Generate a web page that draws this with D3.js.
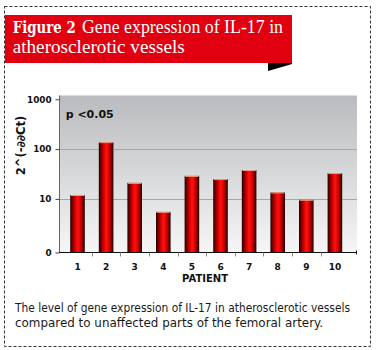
<!DOCTYPE html>
<html>
<head>
<meta charset="utf-8">
<script src="https://cdn.jsdelivr.net/npm/d3@7"></script>
<style>
  html, body { margin: 0; padding: 0; background: #fff; }
  svg { display: block; }
</style>
</head>
<body>
<svg id="chart" width="379" height="350"></svg>
<script>
// ---- data ----
const categories = ["1", "2", "3", "4", "5", "6", "7", "8", "9", "10"];
const values = [12, 138, 21, 5.5, 29, 25, 38, 13.5, 9.6, 33];
const yTickValues = [0.84, 10, 100, 1000];
const yTickLabels = ["0", "10", "100", "1000"];
const titleBold = "Figure 2";
const titleLine1 = "Gene expression of IL-17 in";
const titleLine2 = "atherosclerotic vessels";
const xTitle = "PATIENT";
const yTitle = "2^(-\u2202\u2202Ct)";
const annotation = "p <0.05";
const captionLines = [
  "The level of gene expression of IL-17 in atherosclerotic vessels",
  "compared to unaffected parts of the femoral artery."
];

// ---- layout ----
const svg = d3.select("#chart");
const plot = { left: 59, right: 357, top: 95.5, bottom: 252.5 };

const x = d3.scaleBand().domain(categories).range([63.2, 349.2]).paddingInner(0.49).paddingOuter(0.245);
const y = d3.scaleLog().domain([0.84, 1000]).range([plot.bottom, 99.3]);

const defs = svg.append("defs");
const bg = defs.append("linearGradient").attr("id", "bg").attr("x1", 0).attr("y1", 0).attr("x2", 0).attr("y2", 1);
bg.append("stop").attr("offset", "0%").attr("stop-color", "#b9bbbe");
bg.append("stop").attr("offset", "100%").attr("stop-color", "#f6f6f6");

const bar = defs.append("linearGradient").attr("id", "bar").attr("x1", 0).attr("y1", 0).attr("x2", 1).attr("y2", 0);
[["0%", "#1e0000"], ["12%", "#6a0000"], ["35%", "#dc0000"], ["52%", "#ff1212"], ["72%", "#d40000"], ["88%", "#6a0000"], ["100%", "#1a0000"]]
  .forEach(([o, c]) => bar.append("stop").attr("offset", o).attr("stop-color", c));

// ---- frame & title ----
svg.append("rect").attr("x", 5).attr("y", 15).attr("width", 287).attr("height", 48).attr("fill", "#e10010");
svg.append("polygon").attr("points", "268,63 292,63 292,64 268,71").attr("fill", "#000");

function fitText(sel, w) { sel.attr("textLength", w).attr("lengthAdjust", "spacingAndGlyphs"); return sel; }

fitText(svg.append("text").attr("x", 12.7).attr("y", 33)
  .attr("font-family", "'DejaVu Serif', 'Liberation Serif', serif").attr("font-weight", "bold")
  .attr("font-size", 16).attr("fill", "#fff").text(titleBold), 63);
fitText(svg.append("text").attr("x", 82).attr("y", 33)
  .attr("font-family", "'Liberation Serif', serif")
  .attr("font-size", 19).attr("fill", "#fff").text(titleLine1), 201);
fitText(svg.append("text").attr("x", 12.7).attr("y", 53)
  .attr("font-family", "'Liberation Serif', serif")
  .attr("font-size", 19).attr("fill", "#fff").text(titleLine2), 172);

// ---- plot background & grid ----
svg.append("rect").attr("x", plot.left).attr("y", plot.top).attr("width", plot.right - plot.left)
  .attr("height", plot.bottom - plot.top).attr("fill", "url(#bg)");

svg.append("g").selectAll("line").data([10, 100]).join("line")
  .attr("x1", plot.left).attr("x2", plot.right)
  .attr("y1", d => Math.round(y(d)) + 0.5).attr("y2", d => Math.round(y(d)) + 0.5)
  .attr("stroke", "#a6a8ab").attr("stroke-width", 1);

// ---- bars ----
const bars = svg.append("g");
bars.selectAll("rect").data(values).join("rect")
  .attr("x", (d, i) => x(categories[i]))
  .attr("y", d => y(d))
  .attr("width", x.bandwidth())
  .attr("height", d => plot.bottom - y(d))
  .attr("fill", "url(#bar)");
bars.selectAll("line").data(values).join("line")
  .attr("x1", (d, i) => x(categories[i]) + 0.5)
  .attr("x2", (d, i) => x(categories[i]) + x.bandwidth() - 0.5)
  .attr("y1", d => y(d) + 0.5).attr("y2", d => y(d) + 0.5)
  .attr("stroke", "#e8a08a").attr("stroke-width", 1);

// ---- axes ----
const tickFont = "'DejaVu Sans', 'Liberation Sans', sans-serif";
const yAxis = d3.axisLeft(y).tickValues(yTickValues).tickSize(4).tickPadding(4)
  .tickFormat((d, i) => yTickLabels[i]);
const gy = svg.append("g").attr("transform", `translate(${plot.left + 0.5},0)`).call(yAxis);
gy.select(".domain").attr("d", `M0,${plot.top}V${plot.bottom}`).attr("stroke", "#666");
gy.selectAll(".tick line").attr("stroke", "#444");
gy.selectAll(".tick text").attr("font-family", tickFont).attr("font-weight", "bold")
  .attr("font-size", 8.8).attr("fill", "#111");

const xAxis = d3.axisBottom(x).tickSize(0).tickPadding(11);
const gx = svg.append("g").attr("transform", `translate(0,${plot.bottom})`).call(xAxis);
gx.select(".domain").attr("d", `M${plot.left},0H${plot.right}`).attr("stroke", "#111");
gx.selectAll(".tick text").attr("font-family", tickFont).attr("font-weight", "bold")
  .attr("font-size", 9).attr("fill", "#111");
// tick marks between bands
const bounds = categories.slice(1).map(c => x(c) - x.step() * x.paddingInner() / 2);
gx.append("g").selectAll("line").data(bounds).join("line")
  .attr("x1", d => Math.round(d) + 0.5).attr("x2", d => Math.round(d) + 0.5)
  .attr("y1", 0).attr("y2", 4).attr("stroke", "#888");
gx.append("line").attr("x1", plot.right - 0.5).attr("x2", plot.right - 0.5).attr("y1", -2).attr("y2", 2).attr("stroke", "#111");

// titles
svg.append("text").attr("x", 205).attr("y", 282).attr("text-anchor", "middle")
  .attr("font-family", tickFont).attr("font-weight", "bold").attr("font-size", 10)
  .attr("fill", "#111").text(xTitle);
svg.append("text").attr("transform", "translate(24.5,145.5) rotate(-90)").attr("text-anchor", "middle")
  .attr("font-family", tickFont).attr("font-weight", "bold").attr("font-size", 11.5)
  .attr("fill", "#111").text(yTitle);
svg.append("text").attr("x", 65.7).attr("y", 118)
  .attr("font-family", tickFont).attr("font-weight", "bold").attr("font-size", 11)
  .attr("fill", "#111").text(annotation);

// caption
captionLines.forEach((t, i) => {
  const el = svg.append("text").attr("x", 15).attr("y", 311.7 + i * 15)
    .attr("font-family", "'DejaVu Sans Condensed', 'DejaVu Sans', sans-serif").attr("font-stretch", "condensed")
    .attr("font-size", 11.5).attr("fill", "#1a1a1a").text(t);
  fitText(el, i === 0 ? 335 : 308);
});

// dashed frame
svg.append("rect").attr("x", 4.5).attr("y", 6.5).attr("width", 366).attr("height", 340)
  .attr("fill", "none").attr("stroke", "#333").attr("stroke-width", 1).attr("stroke-dasharray", "3,2");
</script>
</body>
</html>
